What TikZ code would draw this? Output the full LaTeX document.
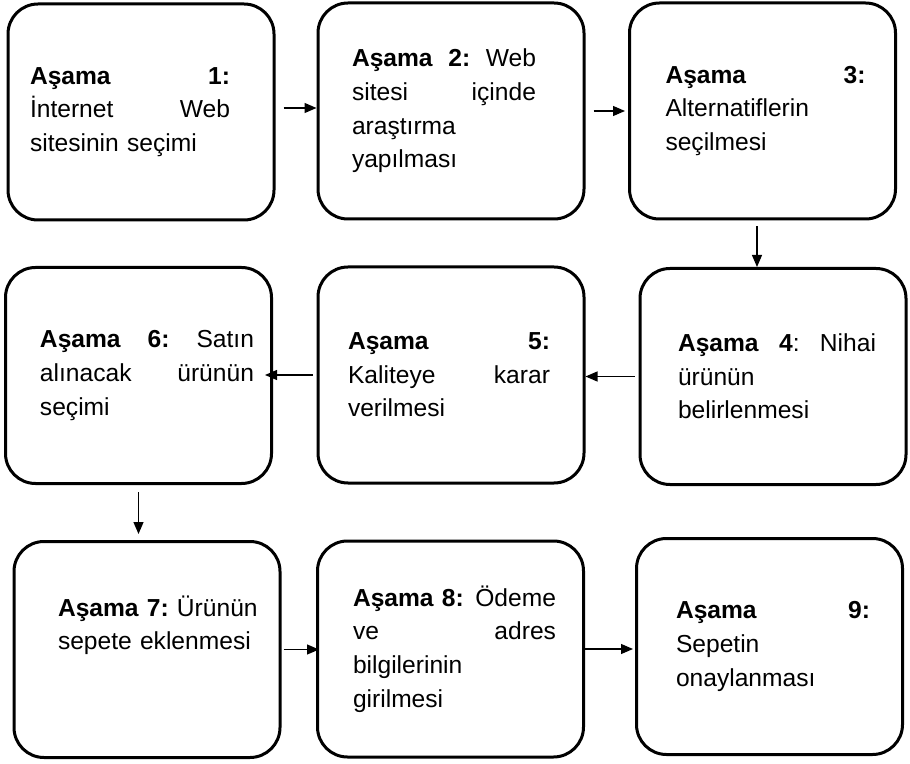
\documentclass[tikz,border=0pt]{standalone}
\usepackage{fontspec}
\setmainfont{Liberation Sans}
\usetikzlibrary{arrows.meta}
\newcommand{\nudge}[1]{\leftskip=#1\relax\rightskip=-#1 plus 1fil\relax}

\begin{document}
\begin{tikzpicture}[
  x=0.5pt, y=-0.5pt,
  font=\fontsize{12.3}{16.8}\selectfont\frenchspacing,
  stage/.style={draw, line width=1.5pt, rounded corners=15pt, minimum width=133pt, minimum height=108pt, text width=100pt, align=left},
  ar/.style={-{Triangle[length=6pt,width=5pt]}, line width=0.6pt}
]
\useasboundingbox (0,0) rectangle (910,764);

% first row
\node[stage] (s1) at (141,112) {\nudge{-5.5pt}\textbf{Aşama}\hfill\textbf{1:}\\ İnternet\hfill Web\\ sitesinin seçimi\par};
\node[stage, text width=92pt] (s2) at (451,111) {\nudge{-3.5pt}\textbf{Aşama}\hfill\textbf{2:}\hfill Web\\ sitesi\hfill içinde\\ araştırma\\ yapılması\par};
\node[stage] (s3) at (762.5,111) {\nudge{1.5pt}\textbf{Aşama}\hfill\textbf{3:}\\ Alternatiflerin\\ seçilmesi\par};

% second row
\node[stage, text width=99pt] (s4) at (773,376.5) {\nudge{2pt}\textbf{Aşama}\hfill\textbf{4}:\hfill Nihai\\ ürünün\\ belirlenmesi\par};
\node[stage, text width=101pt] (s5) at (451,375) {\nudge{-1pt}\textbf{Aşama}\hfill\textbf{5:}\\ Kaliteye\hfill karar\\ verilmesi\par};
\node[stage, text width=107pt] (s6) at (138.5,375.5) {\nudge{4.25pt}\textbf{Aşama}\hfill\textbf{6:}\hfill Satın\\ alınacak\hfill ürünün\\ seçimi\par};

% third row
\node[stage, text width=110pt] (s7) at (147,649.5) {\nudge{10.5pt}\textbf{Aşama 7:} Ürünün\\ sepete eklenmesi\\[10pt]\mbox{}\par};
\node[stage, text width=101.5pt] (s8) at (450.5,649) {\nudge{2pt}\textbf{Aşama 8:}\hfill Ödeme\\ ve\hfill adres\\ bilgilerinin\\ girilmesi\par};
\node[stage, text width=97pt] (s9) at (769.5,646.5) {\nudge{1.75pt}\textbf{Aşama}\hfill\textbf{9:}\\ Sepetin\\ onaylanması\par};

\draw[ar, shorten <=4pt] ([yshift=2pt]s1.east) -- ([yshift=2pt]s1.east -| s2.west);
\draw[ar, shorten <=4pt, shorten >=1.5pt] (s2.east) -- (s2.east -| s3.west);
\draw[ar, shorten <=3pt] ([xshift=-2.75pt]s3.south) -- ([xshift=-2.75pt]s3.south |- s4.north);
\draw[ar, shorten <=2pt] (s4.west) -- (s4.west -| s5.east);
\draw[ar, shorten <=2pt, shorten >=-4pt] (s5.west) -- (s5.west -| s6.east);
\draw[ar, shorten <=3.5pt, shorten >=3pt] (s6.south) -- (s6.south |- s7.north);
\draw[ar, shorten <=1pt, shorten >=-1.5pt] (s7.east) -- (s7.east -| s8.west);
\draw[ar, shorten >=1pt] (s8.east) -- (s8.east -| s9.west);

\end{tikzpicture}
\end{document}
